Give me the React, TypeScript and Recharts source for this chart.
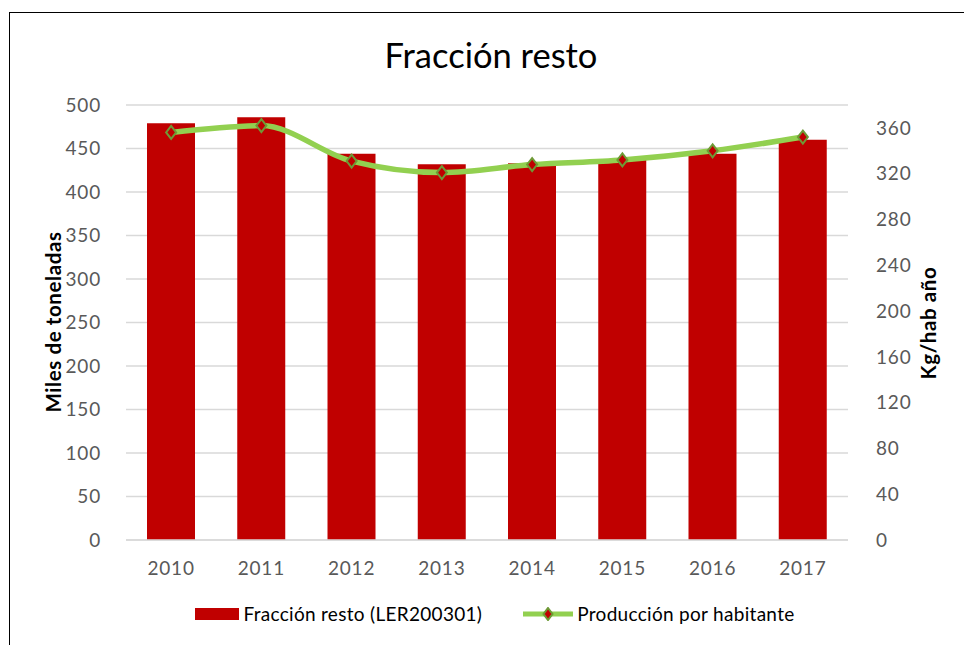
import { Bar, CartesianGrid, ComposedChart, Line, XAxis, YAxis } from 'recharts';

const years = ['2010', '2011', '2012', '2013', '2014', '2015', '2016', '2017'];
const restoTons = [479, 486, 444, 432, 433, 437, 444, 460];
const kgPerHab = [356, 362, 331, 321, 328, 332, 340, 352];
const leftTicks = [0, 50, 100, 150, 200, 250, 300, 350, 400, 450, 500];
const rightTicks = [0, 40, 80, 120, 160, 200, 240, 280, 320, 360];

const data = years.map((year, i) => ({
  year,
  resto: restoTons[i],
  hab: kgPerHab[i],
}));

const FONT = 'Lato, "Open Sans", sans-serif';
const RED = '#C00000';
const GREEN = '#92D050';
const OLIVE = '#6E9A36';
const GRID = '#D9D9D9';
const TICK = { fill: '#595959', fontSize: 19, fontFamily: FONT, letterSpacing: 0.8 };

function Diamond(props: any) {
  const { cx, cy, index } = props;
  if (cx == null || cy == null) return null;
  return (
    <path
      key={`d-${index}`}
      d={`M${cx},${cy - 6.5} L${cx + 5},${cy} L${cx},${cy + 6.5} L${cx - 5},${cy} Z`}
      fill={RED}
      stroke={OLIVE}
      strokeWidth={2}
    />
  );
}

export default function App() {
  return (
    <div
      style={{
        position: 'absolute',
        left: 0,
        top: 0,
        width: 964,
        height: 645,
        background: '#fff',
        overflow: 'hidden',
        fontFamily: FONT,
      }}
    >
      <div
        style={{
          position: 'absolute',
          left: 9,
          top: 12,
          width: 1000,
          height: 700,
          borderLeft: '1.5px solid #000',
          borderTop: '1.5px solid #000',
        }}
      />
      <div
        style={{
          position: 'absolute',
          left: 0,
          width: 982,
          top: 34,
          textAlign: 'center',
          fontSize: 34.5,
          color: '#000',
        }}
      >
        Fracción resto
      </div>
      <div
        style={{
          position: 'absolute',
          left: 53,
          top: 322,
          transform: 'translate(-50%, -50%) rotate(-90deg)',
          whiteSpace: 'nowrap',
          fontSize: 20.5,
          letterSpacing: 0.6,
          fontWeight: 700,
          color: '#000',
        }}
      >
        Miles de toneladas
      </div>
      <div
        style={{
          position: 'absolute',
          left: 928,
          top: 323,
          transform: 'translate(-50%, -50%) rotate(-90deg)',
          whiteSpace: 'nowrap',
          fontSize: 20.5,
          letterSpacing: 0.6,
          fontWeight: 700,
          color: '#000',
        }}
      >
        Kg/hab año
      </div>
      <div style={{ position: 'absolute', left: 0, top: 0 }}>
        <ComposedChart
          width={964}
          height={645}
          data={data}
          margin={{ top: 105, right: 0, left: 0, bottom: 65 }}
        >
          <CartesianGrid vertical={false} stroke={GRID} strokeWidth={1.5} yAxisId="left" />
          <XAxis
            dataKey="year"
            axisLine={{ stroke: GRID, strokeWidth: 1.5 }}
            tickLine={false}
            tick={TICK}
            tickMargin={16}
            height={40}
          />
          <YAxis
            yAxisId="left"
            domain={[0, 500]}
            ticks={leftTicks}
            axisLine={false}
            tickLine={false}
            tick={TICK}
            tickMargin={19}
            width={126}
          />
          <YAxis
            yAxisId="right"
            orientation="right"
            domain={[0, 380]}
            ticks={rightTicks}
            axisLine={false}
            tickLine={false}
            tick={{ ...TICK, textAnchor: 'start' }}
            tickMargin={22}
            width={116}
          />
          <Bar
            yAxisId="left"
            dataKey="resto"
            fill={RED}
            barSize={48}
            isAnimationActive={false}
          />
          <Line
            yAxisId="right"
            dataKey="hab"
            type="monotone"
            stroke={GREEN}
            strokeWidth={5.5}
            dot={Diamond}
            activeDot={false}
            isAnimationActive={false}
          />
        </ComposedChart>
      </div>
      <div
        style={{
          position: 'absolute',
          left: 0,
          width: 990,
          top: 602,
          display: 'flex',
          justifyContent: 'center',
          alignItems: 'center',
          fontSize: 19,
          letterSpacing: 0.3,
          color: '#000',
          gap: 41,
        }}
      >
        <div style={{ display: 'flex', alignItems: 'center' }}>
          <span style={{ display: 'inline-block', width: 44, height: 12, background: RED, marginRight: 4 }} />
          <span>Fracción resto (LER200301)</span>
        </div>
        <div style={{ display: 'flex', alignItems: 'center' }}>
          <svg width={50} height={14} style={{ marginRight: 4 }}>
            <line x1={0} y1={7} x2={50} y2={7} stroke={GREEN} strokeWidth={5} />
            <path d="M25,1 L29.5,7 L25,13 L20.5,7 Z" fill={RED} stroke={OLIVE} strokeWidth={2} />
          </svg>
          <span>Producción por habitante</span>
        </div>
      </div>
    </div>
  );
}
